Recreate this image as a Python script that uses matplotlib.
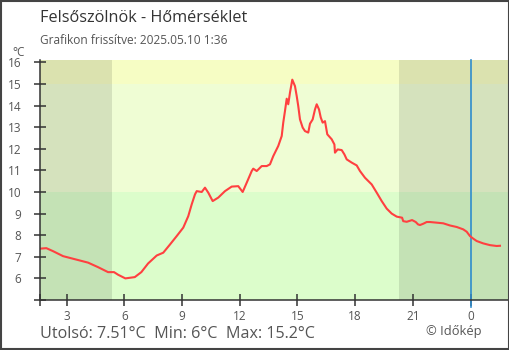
import matplotlib
matplotlib.use("Agg")
import matplotlib.pyplot as plt
from matplotlib.patches import Rectangle
import matplotlib.transforms as mtransforms

plt.rcParams['font.family'] = ['Open Sans', 'DejaVu Sans']

# hőmérsékleti sor: óra (előző nap 1:36-tól, 24+ = következő nap) és °C
orak = [1.65, 1.94, 2.29, 2.81, 3.07, 3.59, 4.11, 4.63, 5.15, 5.46, 5.67, 6.05,
        6.54, 6.88, 7.23, 7.68, 8.02, 8.37, 8.72, 9.06, 9.32, 9.50, 9.67, 9.76,
        10.02, 10.19, 10.36, 10.59, 10.88, 11.23, 11.58, 11.92, 12.15, 12.36,
        12.62, 12.70, 12.88, 13.14, 13.40, 13.57, 13.74, 14.00, 14.18, 14.26,
        14.35, 14.44, 14.52, 14.61, 14.73, 14.87, 14.96, 15.04, 15.13, 15.27,
        15.39, 15.56, 15.65, 15.79, 15.91, 16.00, 16.12, 16.21, 16.31, 16.43,
        16.55, 16.78, 16.92, 16.95, 17.09, 17.30, 17.44, 17.56, 17.82, 18.08,
        18.25, 18.51, 18.86, 19.12, 19.38, 19.64, 19.90, 20.16, 20.44, 20.50,
        20.68, 20.96, 21.15, 21.27, 21.37, 21.54, 21.72, 21.89, 22.24, 22.58,
        22.93, 23.28, 23.62, 23.80, 23.97, 24.14, 24.32, 24.66, 25.01, 25.36,
        25.53]
homerseklet = [7.38, 7.40, 7.26, 7.03, 6.97, 6.85, 6.73, 6.52, 6.29, 6.29, 6.17, 6.00,
               6.06, 6.29, 6.69, 7.06, 7.19, 7.57, 7.96, 8.35, 8.88, 9.43, 9.89, 10.04,
               10.00, 10.20, 9.97, 9.58, 9.74, 10.04, 10.25, 10.27, 10.00, 10.43,
               10.97, 11.08, 10.97, 11.20, 11.20, 11.28, 11.66, 12.13, 12.59, 13.21,
               13.75, 14.32, 14.06, 14.60, 15.20, 14.90, 14.44, 13.98, 13.36, 12.98,
               12.82, 12.75, 13.16, 13.36, 13.82, 14.06, 13.82, 13.45, 13.21, 13.28,
               12.67, 12.44, 12.20, 11.82, 11.97, 11.94, 11.74, 11.51, 11.36, 11.23,
               10.97, 10.66, 10.35, 9.97, 9.58, 9.23, 9.00, 8.86, 8.81, 8.65,
               8.62, 8.70, 8.61, 8.50, 8.47, 8.53, 8.61, 8.61, 8.58, 8.55,
               8.45, 8.38, 8.27, 8.16, 7.96, 7.84, 7.73, 7.62, 7.54, 7.50,
               7.51]

ido_tartomany = (1.61, 26.0)
napkelte = 5.35
napnyugta = 20.27
ejfel = 24

x_tick_ertekek = [3, 6, 9, 12, 15, 18, 21, 24]
x_tick_feliratok = ['3', '6', '9', '12', '15', '18', '21', '0']
y_tick_ertekek = list(range(6, 17))

utolso = homerseklet[-1]
minimum = min(homerseklet)
maximum = max(homerseklet)

fig = plt.figure(figsize=(5.1, 3.5), dpi=100)
fig.patch.set_facecolor('white')
ax = fig.add_axes([40 / 510, 50 / 350, 469 / 510, 240 / 350])

ax.set_xlim(*ido_tartomany)
ax.set_ylim(5, 16.11)

# hőmérsékleti sávok
ax.axhspan(5, 10, color='#dcfdcb', zorder=0, lw=0)
ax.axhspan(10, 15, color='#effdd4', zorder=0, lw=0)
ax.axhspan(15, 17, color='#f6fdc4', zorder=0, lw=0)

# éjszakai árnyékolás
ax.axvspan(ido_tartomany[0], napkelte, color='black', alpha=0.105, lw=0, zorder=1)
ax.axvspan(napnyugta, ido_tartomany[1], color='black', alpha=0.105, lw=0, zorder=1)

# éjfél jelölése
trans = mtransforms.blended_transform_factory(ax.transData, ax.transAxes)
ax.plot([ejfel, ejfel], [-0.03, 1], transform=trans, color='#2f8ccc',
        lw=1.2, clip_on=False, zorder=2, snap=True)

ax.plot(orak, homerseklet, color='#ff4040', lw=1.5, zorder=3)

for s in ['top', 'right']:
    ax.spines[s].set_visible(False)
for s in ['left', 'bottom']:
    ax.spines[s].set_color('#333333')
    ax.spines[s].set_linewidth(1.1)
    ax.spines[s].set_zorder(4)

ax.set_xticks([ido_tartomany[0]] + x_tick_ertekek)
ax.set_xticklabels([''] + x_tick_feliratok)
ax.set_yticks([5] + y_tick_ertekek)
ax.set_yticklabels([''] + [str(v) for v in y_tick_ertekek])
ax.tick_params(axis='both', direction='inout', length=9, width=1.1,
               color='#333333', labelcolor='#555555', labelsize=8.5)
ax.tick_params(axis='y', pad=9)
ax.tick_params(axis='x', pad=3)

fig.text(12 / 510, 1 - 52 / 350, '°C', fontsize=8.5, color='#555555', va='center')
fig.text(40 / 510, 1 - 18 / 350, 'Felsőszölnök - Hőmérséklet', fontsize=11.7,
         color='#333333', va='center')
fig.text(40 / 510, 1 - 40 / 350, 'Grafikon frissítve: 2025.05.10 1:36', fontsize=8.6,
         color='#555555', va='center')
fig.text(40 / 510, 1 - 334 / 350,
         f'Utolsó: {utolso:.2f}°C  Min: {minimum:g}°C  Max: {maximum:g}°C',
         fontsize=11.6, color='#555555', va='center')
fig.text(482 / 510, 1 - 332 / 350, '© Időkép', fontsize=9.3, color='#555555',
         va='center', ha='right')

fig.patches.append(Rectangle((0.001, 0.0015), 0.997, 0.996, transform=fig.transFigure,
                             fill=False, edgecolor='#444444', lw=1.5))

fig.savefig('out.png', dpi=100)
